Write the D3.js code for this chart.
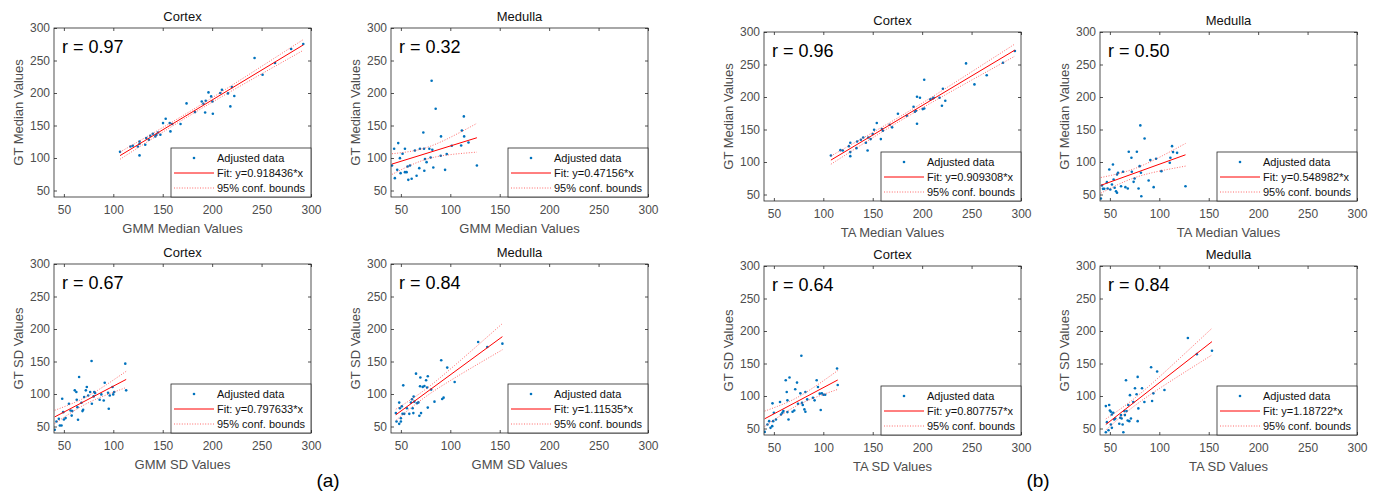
<!DOCTYPE html>
<html>
<head>
<meta charset="utf-8">
<script src="https://cdn.jsdelivr.net/npm/d3@7"></script>
<style>
  body { margin: 0; background: #fff; }
  svg { display: block; font-family: "Liberation Sans", Arial, sans-serif; }
</style>
</head>
<body>
<div id="chart"></div>
<script>
// ---- data: [x, y] pairs ----
const gmmMedianCortex = [[106.8,109.5],[117.3,117.8],[119.7,118.8],[124.8,117.8],[126.5,125.5],[126.5,122],[126.5,104],
  [132.3,120.3],[133.3,130.6],[136,128],[137.4,134.2],[140,137.3],[142.5,133.2],[143.5,135.7],[145.2,139.3],[147.6,135.7],
  [150.3,153.7],[153,160.4],[157.1,153.7],[157.8,140.9],[159.5,152.2],[168,152.2],[174.1,184],[182.7,170.6],[189.5,187],
  [191.2,183.5],[193.5,188.1],[192.9,170.1],[196.3,200.9],[199,194.8],[200.3,187],[200.7,168.1],[208.2,199.9],[209.9,205],
  [216,199.4],[218.4,179.4],[220,209.1],[222.4,195.3],[242.9,253.8],[251,228.1],[263.6,246.1],[279.9,267.7],[292.2,275.4]];
const gmmMedianMedulla = [[41,88.5],[43.2,114.2],[43.9,69],[46.3,81.8],[47.3,122.9],[49,99.8],[49.7,76.7],[51.7,106.5],
  [54.1,114.2],[54.1,78.2],[55.8,78.2],[56.8,87],[57.5,66.4],[59.2,88.5],[60.9,68],[64.2,111.6],[65.9,72.6],[68.6,84.4],
  [69.3,114.2],[72.7,139.3],[73.4,114.2],[73.7,80.3],[74.4,98.3],[76,93.6],[78.8,114.2],[80.1,100.8],[81.1,218.9],
  [81.8,112.6],[82.8,85.4],[85.2,175.8],[90.6,133.2],[90.3,103.4],[94.7,81.8],[96.4,106],[101.5,118.8],[111,119.3],
  [111.7,142.4],[113.7,164],[114,133.2],[118.4,123.9],[126.9,88.5]];
const gmmSdCortex = [[40.8,44.9],[42.5,57.7],[44.9,61.8],[45.9,51.5],[47.6,51.5],[48.3,92.7],[49.3,72.1],[50,60.8],
  [51.7,62.9],[55.1,84.9],[56.8,74.7],[57.9,66.8],[58.5,73.7],[61,105.6],[62.6,103],[63,91.2],[63.7,79.8],[64.3,60.3],
  [65.4,126.1],[67.8,86.5],[68.8,73.7],[69.5,75.7],[70.5,95.3],[72.2,105.6],[73.2,110.7],[74.6,97.8],[76.6,103],
  [78,150.8],[78.3,85],[80.1,96.3],[80.7,103],[81.6,101.4],[86.2,91.2],[87.9,99.4],[90.3,90.1],[91.3,117.4],[94.7,101.9],
  [95.4,77.3],[96.4,97.8],[99.2,110.7],[99.9,99.4],[100.9,103],[112.1,146.7],[113,105.6]];
const gmmSdMedulla = [[44.9,70.6],[45.6,57.7],[48.3,54.1],[48.3,86.8],[49,78.1],[50,62.8],[50,57.7],[51,81],[51.7,69.5],
  [52.4,113.3],[53.4,69.5],[56.1,78.1],[58.5,69.5],[60.2,86.8],[61.2,91.9],[61.9,78.1],[62.6,70.6],[62.9,96],[63.6,88.2],
  [65.3,131.3],[66.3,85.7],[67.7,87.1],[68.7,66.5],[69.4,111.9],[69.7,125.3],[70.4,70.6],[72.1,110.9],[73.8,112.4],
  [75.5,121.2],[76.5,109.9],[77.2,127.4],[77.2,79.1],[80.6,106.8],[84,88.2],[90.8,151.9],[91.8,92.3],[93.2,94.4],
  [96.9,140.6],[104.4,118.4],[128.2,180.1],[137.4,172.4],[152.7,177.5]];
const taMedianCortex = [[107.7,110],[117.3,118.2],[119.7,117.6],[125.9,124.4],[127.3,129.6],[127.3,115.2],[127.3,109],
  [133.5,121.3],[134.2,131.6],[138,134.2],[140.4,137.8],[143.1,129.6],[144.8,117.6],[145.5,137.8],[147.9,135.2],
  [150,142.9],[151.4,149.6],[154.1,159.9],[158.2,135.2],[159.3,150.6],[160.3,148.1],[167.2,157.3],[169.6,153.3],
  [175.5,174.3],[184.4,171.2],[191.3,185],[192.7,177.3],[193.7,178.8],[194.8,200.4],[194.8,158.8],[197.8,198.9],
  [200.6,181.4],[202.1,182.3],[202.1,226.6],[208.3,196.3],[210.7,197.8],[211.7,198.9],[217.6,198.9],[220,186.5],
  [221,212.7],[223.4,194.2],[244.4,251.7],[252.9,219.4],[265.3,233.4],[281.8,252.8],[293.8,270.7]];
const taMedianMedulla = [[40.9,43.8],[42,63.8],[43,58.7],[44.3,58.7],[47,69],[47.7,59.2],[49.4,88.5],[50.4,57.7],
  [52.1,65.4],[53.1,96.2],[53.8,73.1],[54.8,60.3],[56.2,55.1],[57.2,52.6],[57.2,80.8],[58.2,83.4],[61.3,62.8],[63.3,84.9],
  [65.7,61.3],[68.1,59.2],[69.1,115.7],[71.8,106.5],[72.2,84.9],[74,69.5],[75,74.6],[77.3,115.7],[79,59.2],[80.1,93.6],
  [80.8,156.3],[81.4,83.4],[81.8,47.2],[85.1,136.2],[89.2,71.5],[90.9,102.9],[94.3,61.3],[96.7,104.9],[102.1,85.9],
  [110.6,98.8],[111.2,106.5],[112.9,124.4],[113.9,115.2],[118,114.1],[126.5,62.8]];
const taSdCortex = [[40.7,44.8],[43.5,56.2],[45.2,61.3],[46.6,51],[48.3,53.6],[48.6,88.7],[49.3,61.3],[50,74.2],
  [52.1,63.9],[56.2,90.7],[57.2,71.6],[58.6,74.2],[59.6,76.8],[62,124.2],[63,106.2],[63.7,93.3],[63.7,75.2],[64.8,63.9],
  [65.8,128.4],[68.9,75.7],[70.6,77.8],[71.6,110.3],[73.4,120.6],[74.4,88.1],[76.8,104.1],[77.8,161.9],[78.5,89.7],
  [79.2,86.1],[80.9,79.4],[81.9,106.2],[81.9,75.7],[83.7,94.8],[89.5,97.4],[91.2,93.3],[93.3,124.2],[94.6,113.9],
  [96.4,103.6],[97.4,78.4],[98.5,104.1],[100.1,102],[101.9,102],[113.9,142.3],[114.6,117]];
const taSdMedulla = [[45.9,84.5],[45.9,44.3],[47,59.8],[48.6,47.4],[49.3,86.1],[50,77.8],[51,75.8],[51,56.2],[52,71.6],
  [52,51],[53.4,74.2],[54.4,63.9],[55.4,65.5],[59.5,57.2],[60.5,66.5],[61.2,70.6],[61.9,65.5],[62.9,56.2],[63.6,44.3],
  [64.6,76.8],[65.2,70.6],[66.3,124.2],[66.9,76.8],[68,62.4],[68.6,86.1],[69.6,61.3],[70.3,101.3],[71.3,65.5],
  [73.7,90.7],[75.4,111.9],[77,102.6],[78.1,129.4],[78.1,61.3],[78.8,80.9],[82.5,111.9],[84.9,90.7],[91.7,144.3],
  [92.7,92.3],[94,104.1],[97.8,137.6],[105.2,109.3],[128.9,189.2],[138,164.4],[153.3,169.6]];

const panelData = [gmmMedianCortex, gmmMedianMedulla, gmmSdCortex, gmmSdMedulla,
                   taMedianCortex, taMedianMedulla, taSdCortex, taSdMedulla];
const titles = ["Cortex", "Medulla", "Cortex", "Medulla", "Cortex", "Medulla", "Cortex", "Medulla"];
const xLabels = ["GMM Median Values", "GMM Median Values", "GMM SD Values", "GMM SD Values",
                 "TA Median Values", "TA Median Values", "TA SD Values", "TA SD Values"];
const yLabels = ["GT Median Values", "GT Median Values", "GT SD Values", "GT SD Values",
                 "GT Median Values", "GT Median Values", "GT SD Values", "GT SD Values"];
const rValues = ["0.97", "0.32", "0.67", "0.84", "0.96", "0.50", "0.64", "0.84"];
const fitSlopes = ["0.918436", "0.47156", "0.797633", "1.11535", "0.909308", "0.548982", "0.807757", "1.18722"];
const tickValues = [50, 100, 150, 200, 250, 300];
const axisDomain = [40, 300];
const legendLabels = ["Adjusted data", "Fit: y=", "95% conf. bounds"];
const groupLabels = ["(a)", "(b)"];

// ---- layout ----
const W = 1383, H = 493;
const boxW = 257, boxH = 169;
const boxes = [
  [54, 28], [391, 28], [54, 264], [391, 264],
  [764, 32], [1100, 32], [764, 266], [1100, 266]
];
const groupPos = [[328, 480], [1038, 480]];
const T95 = 2.01;
const dotColor = "#0072bd";
const tickColor = "#4d4d4d";

const svg = d3.select("#chart").append("svg")
  .attr("width", W).attr("height", H);

panelData.forEach((data, i) => {
  const [bx, by] = boxes[i];
  const x = d3.scaleLinear().domain(axisDomain).range([0, boxW]);
  const y = d3.scaleLinear().domain(axisDomain).range([boxH, 0]);
  const g = svg.append("g").attr("transform", `translate(${bx},${by})`);

  g.append("clipPath").attr("id", "clip" + i)
    .append("rect").attr("width", boxW).attr("height", boxH);

  // axes, ticks inside like MATLAB
  const styleAxis = sel => {
    sel.select(".domain").remove();
    sel.selectAll("line").attr("stroke", "#262626").attr("stroke-width", 0.8);
    sel.selectAll("text").attr("fill", tickColor)
      .style("font-family", "'Liberation Sans', Arial, sans-serif").style("font-size", "12px");
  };
  g.append("g").attr("transform", `translate(0,${boxH})`)
    .call(d3.axisBottom(x).tickValues(tickValues).tickSizeInner(-3).tickSizeOuter(0).tickPadding(8))
    .call(styleAxis);
  g.append("g")
    .call(d3.axisLeft(y).tickValues(tickValues).tickSizeInner(-3).tickSizeOuter(0).tickPadding(4))
    .call(styleAxis);
  g.append("g")
    .call(d3.axisTop(x).tickValues(tickValues).tickSizeInner(-3).tickSizeOuter(0).tickFormat(""))
    .call(styleAxis);
  g.append("g").attr("transform", `translate(${boxW},0)`)
    .call(d3.axisRight(y).tickValues(tickValues).tickSizeInner(-3).tickSizeOuter(0).tickFormat(""))
    .call(styleAxis);

  // regression through the data mean, slope from the fit label
  const n = data.length;
  const mx = d3.mean(data, d => d[0]);
  const my = d3.mean(data, d => d[1]);
  const b = +fitSlopes[i];
  const a = my - b * mx;
  const sxx = d3.sum(data, d => (d[0] - mx) ** 2);
  const s = Math.sqrt(d3.sum(data, d => (d[1] - a - b * d[0]) ** 2) / (n - 2));
  const [xmin, xmax] = d3.extent(data, d => d[0]);
  const xs = d3.range(0, 41).map(k => xmin + (xmax - xmin) * k / 40);
  const half = xv => T95 * s * Math.sqrt(1 / n + (xv - mx) ** 2 / sxx);

  const plot = g.append("g").attr("clip-path", `url(#clip${i})`);
  const line = d3.line().x(d => x(d[0])).y(d => y(d[1]));

  plot.selectAll(".dot").data(data).enter().append("circle")
    .attr("cx", d => x(d[0])).attr("cy", d => y(d[1])).attr("r", 1.3)
    .attr("fill", dotColor);

  [1, -1].forEach(sign => {
    plot.append("path")
      .attr("d", line(xs.map(xv => [xv, a + b * xv + sign * half(xv)])))
      .attr("fill", "none").attr("stroke", "#ff3030").attr("stroke-width", 0.9)
      .attr("stroke-dasharray", "1,1.6").attr("opacity", 0.8);
  });
  plot.append("path")
    .attr("d", line([[xmin, a + b * xmin], [xmax, a + b * xmax]]))
    .attr("fill", "none").attr("stroke", "#ff0000").attr("stroke-width", 1);

  // frame
  g.append("rect").attr("width", boxW).attr("height", boxH)
    .attr("fill", "none").attr("stroke", "#262626").attr("stroke-width", 0.8);

  // title and labels
  g.append("text").attr("x", boxW / 2).attr("y", -12)
    .attr("text-anchor", "middle").attr("dominant-baseline", "central")
    .attr("fill", "#111").style("font-size", "13px").text(titles[i]);
  g.append("text").attr("x", boxW / 2).attr("y", boxH + 31)
    .attr("text-anchor", "middle").attr("dominant-baseline", "central")
    .attr("fill", tickColor).style("font-size", "13px").text(xLabels[i]);
  g.append("text").attr("transform", `translate(-36,${boxH / 2}) rotate(-90)`)
    .attr("text-anchor", "middle").attr("dominant-baseline", "central")
    .attr("fill", tickColor).style("font-size", "13px").text(yLabels[i]);
  g.append("text").attr("x", 8).attr("y", 25)
    .attr("fill", "#000").style("font-size", "18px").text("r = " + rValues[i]);

  // legend
  const lw = 140, lh = 49;
  const lg = g.append("g").attr("transform", `translate(${boxW - lw},${boxH - lh})`);
  lg.append("rect").attr("width", lw).attr("height", lh)
    .attr("fill", "#fff").attr("stroke", "#262626").attr("stroke-width", 0.8);
  const rows = [10, 25, 40];
  lg.append("circle").attr("cx", 23).attr("cy", rows[0]).attr("r", 1.3).attr("fill", dotColor);
  lg.append("line").attr("x1", 3).attr("x2", 43).attr("y1", rows[1]).attr("y2", rows[1])
    .attr("stroke", "#ff0000").attr("stroke-width", 1);
  lg.append("line").attr("x1", 3).attr("x2", 43).attr("y1", rows[2]).attr("y2", rows[2])
    .attr("stroke", "#ff3030").attr("stroke-width", 0.9).attr("stroke-dasharray", "1,1.6").attr("opacity", 0.8);
  const texts = [legendLabels[0], legendLabels[1] + fitSlopes[i] + "*x", legendLabels[2]];
  texts.forEach((t, k) => {
    lg.append("text").attr("x", 46).attr("y", rows[k])
      .attr("dominant-baseline", "central").attr("fill", "#111")
      .style("font-size", "11px").text(t);
  });
});

groupLabels.forEach((t, k) => {
  svg.append("text").attr("x", groupPos[k][0]).attr("y", groupPos[k][1])
    .attr("text-anchor", "middle").attr("dominant-baseline", "central")
    .attr("fill", "#000").style("font-size", "19px").text(t);
});
</script>
</body>
</html>
